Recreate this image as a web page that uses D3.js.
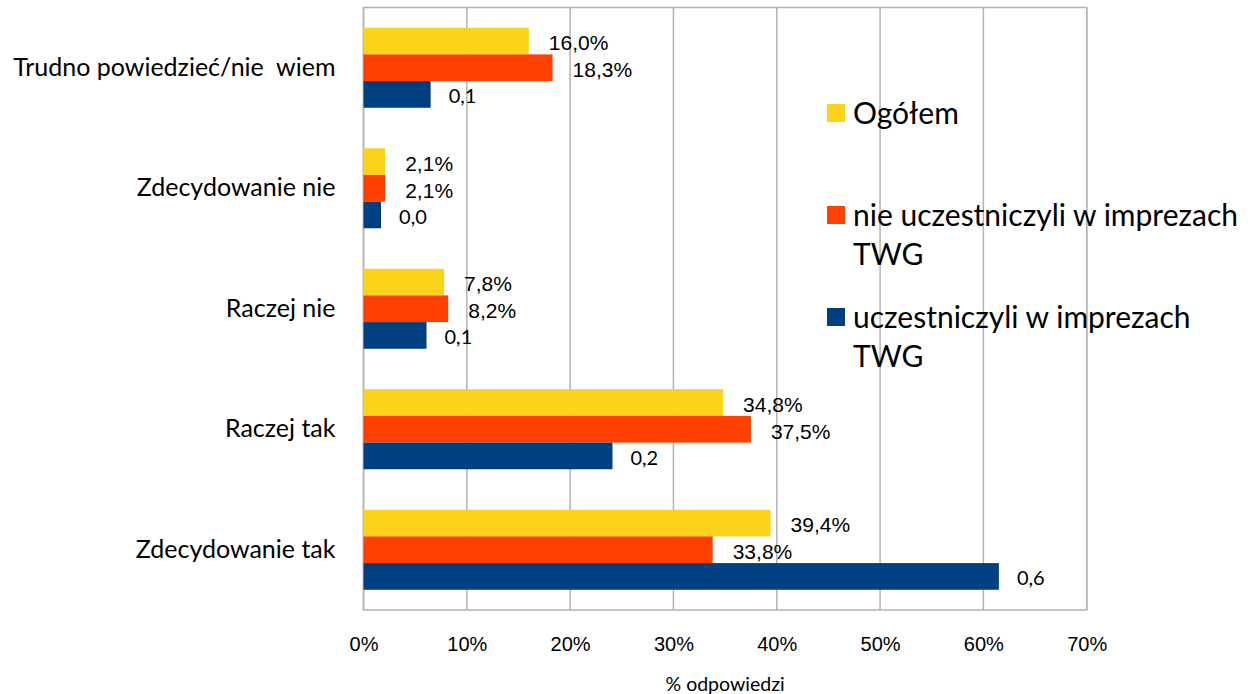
<!DOCTYPE html>
<html>
<head>
<meta charset="utf-8">
<script src="https://cdn.jsdelivr.net/npm/d3@7"></script>
<style>
  body { margin: 0; background: #fff; }
  svg { display: block; }
  text { white-space: pre; }
</style>
</head>
<body>
<svg id="chart"></svg>
<script>
// answers, top to bottom as in the picture
let categories = ['Trudno powiedzieć/nie  wiem', 'Zdecydowanie nie', 'Raczej nie', 'Raczej tak', 'Zdecydowanie tak']
let seriesNames = ['Ogółem', 'nie uczestniczyli w imprezach TWG', 'uczestniczyli w imprezach TWG']
let ogolem = [16.0, 2.1, 7.8, 34.8, 39.4]
let nieUczestniczyli = [18.3, 2.1, 8.2, 37.5, 33.8]
let uczestniczyli = [6.5, 1.7, 6.1, 24.1, 61.5] // bars
let uczestniczyliLabels = ['0,1', '0,0', '0,1', '0,2', '0,6']
let xTicks = [0, 10, 20, 30, 40, 50, 60, 70]
let colors = ['#fcd31b', '#ff4000', '#004080']

let width = 1248
let height = 694
let plotLeft = 363.5
let plotRight = 1086.7
let plotTop = 7.5
let plotBottom = 610

let svg = d3.select('#chart').attr('width', width).attr('height', height)

let xScale = d3.scaleLinear().domain([0, 70]).range([plotLeft, plotRight])
let yScale = d3.scaleBand().domain(categories).range([plotTop, plotBottom]).paddingInner(0.336).paddingOuter(0.168)
let subScale = d3.scaleBand().domain([0, 1, 2]).range([0, yScale.bandwidth()])

// grid
svg.append('g')
    .selectAll('line')
    .data(xTicks)
    .enter()
    .append('line')
    .attr('x1', d => xScale(d)).attr('x2', d => xScale(d))
    .attr('y1', plotTop).attr('y2', plotBottom)
    .attr('stroke', '#b3b3b3').attr('stroke-width', 1.5)
svg.append('rect')
    .attr('x', plotLeft).attr('y', plotTop)
    .attr('width', plotRight - plotLeft).attr('height', plotBottom - plotTop)
    .attr('fill', 'none').attr('stroke', '#b3b3b3').attr('stroke-width', 1.5)

let rows = categories.map((c, i) => ({
    cat: c,
    vals: [
        { s: 0, v: ogolem[i], label: ogolem[i].toFixed(1).replace('.', ',') + '%' },
        { s: 1, v: nieUczestniczyli[i], label: nieUczestniczyli[i].toFixed(1).replace('.', ',') + '%' },
        { s: 2, v: uczestniczyli[i], label: uczestniczyliLabels[i] }
    ]
}))

let groups = svg.selectAll('.grp')
    .data(rows)
    .enter()
    .append('g')
    .attr('class', 'grp')
    .attr('transform', d => `translate(0, ${yScale(d.cat)})`)

groups.selectAll('rect')
    .data(d => d.vals)
    .enter()
    .append('rect')
    .attr('x', xScale(0))
    .attr('y', d => subScale(d.s))
    .attr('width', d => xScale(d.v) - xScale(0))
    .attr('height', subScale.bandwidth())
    .attr('fill', d => colors[d.s])

groups.selectAll('text')
    .data(d => d.vals)
    .enter()
    .append('text')
    .attr('x', d => xScale(d.v) + (d.s == 2 ? 18 : 20))
    .attr('y', d => subScale(d.s) + subScale.bandwidth() / 2 + 2)
    .attr('dy', '0.35em')
    .attr('font-family', d => d.s == 2 ? 'Lato, sans-serif' : '"Liberation Sans", Arial, sans-serif')
    .attr('font-size', d => d.s == 2 ? 20 : 21)
    .attr('fill', '#000')
    .text(d => d.label)

// category axis
let yAxis = d3.axisLeft(yScale).tickSize(0).tickPadding(28)
let yG = svg.append('g')
    .attr('transform', `translate(${plotLeft}, 0)`)
    .call(yAxis)
yG.select('.domain').remove()
yG.selectAll('text')
    .attr('font-family', 'Lato, sans-serif')
    .attr('font-size', 25)
    .attr('fill', '#000')

// value axis
let xAxis = d3.axisBottom(xScale).tickValues(xTicks).tickSize(0).tickPadding(27).tickFormat(d => d + '%')
let xG = svg.append('g')
    .attr('transform', `translate(0, ${plotBottom})`)
    .call(xAxis)
xG.select('.domain').remove()
xG.selectAll('text')
    .attr('font-family', '"Liberation Sans", Arial, sans-serif')
    .attr('font-size', 20)
    .attr('fill', '#000')

svg.append('text')
    .attr('x', (plotLeft + plotRight) / 2)
    .attr('y', 684)
    .attr('dy', '0.35em')
    .attr('text-anchor', 'middle')
    .attr('font-family', 'Lato, sans-serif')
    .attr('font-size', 19.5)
    .text('% odpowiedzi')

// legend
let legendLines = [['Ogółem'], ['nie uczestniczyli w imprezach', 'TWG'], ['uczestniczyli w imprezach', 'TWG']]
let legendY = [113, 215, 317]
let legend = svg.append('g')
legendLines.forEach((lines, i) => {
    legend.append('rect')
        .attr('x', 827).attr('y', legendY[i] - 9)
        .attr('width', 18).attr('height', 18)
        .attr('fill', colors[i])
    lines.forEach((t, j) => {
        legend.append('text')
            .attr('x', 853)
            .attr('y', legendY[i] + j * 39)
            .attr('dy', '0.35em')
            .attr('font-family', 'Lato, sans-serif')
            .attr('font-size', 30)
            .attr('fill', '#000')
            .text(t)
    })
})
</script>
</body>
</html>
